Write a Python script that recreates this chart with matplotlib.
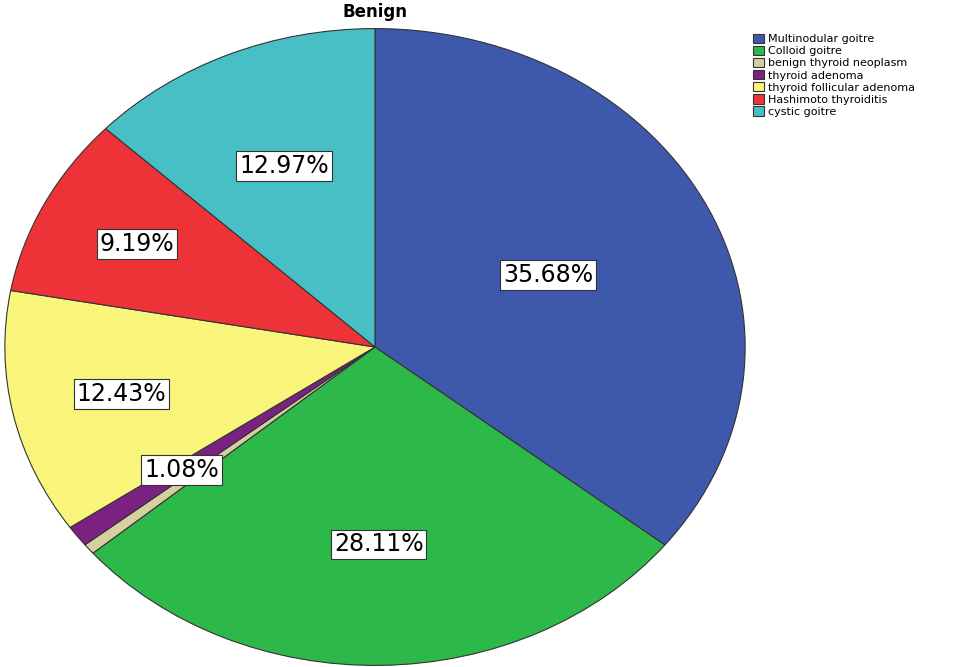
import numpy as np
import matplotlib.pyplot as plt

labels = ["Multinodular goitre", "Colloid goitre", "benign thyroid neoplasm",
          "thyroid adenoma", "thyroid follicular adenoma", "Hashimoto thyroiditis",
          "cystic goitre"]
values = [35.68, 28.11, 0.54, 1.08, 12.43, 9.19, 12.97]
colors = ["#3e58ac", "#2db84a", "#d6cf9e", "#7a2182", "#f9f57a", "#ee3338", "#47bfc4"]
label_dist = [0.52, 0.62, 0.65, 0.65, 0.70, 0.72, 0.62]

fig = plt.figure(figsize=(9.7, 6.67), dpi=100)
ax = fig.add_axes([3 / 970, 0.0, 744 / 970, 640 / 667])
wedges, _ = ax.pie(values, colors=colors, startangle=90, counterclock=False,
                   wedgeprops=dict(edgecolor="#333333", linewidth=0.8))
ax.set_aspect("auto")
ax.set_xlim(-1.005, 1.005)
ax.set_ylim(-1.005, 1.005)

for w, v, d in zip(wedges, values, label_dist):
    if v < 1.0:
        continue
    ang = np.deg2rad((w.theta1 + w.theta2) / 2)
    ax.text(d * np.cos(ang), d * np.sin(ang), f"{v:.2f}%", ha="center", va="center",
            fontsize=17, bbox=dict(facecolor="white", edgecolor="#333333", pad=2, linewidth=0.8))

fig.text(375 / 970, 1 - 12 / 667, "Benign", ha="center", va="center",
         fontsize=12, fontweight="bold")
fig.legend(wedges, labels, loc="upper left", bbox_to_anchor=(745 / 970, 1 - 26 / 667),
           fontsize=8, frameon=False, handlelength=1.0, handleheight=0.9,
           labelspacing=0.15, handletextpad=0.4, borderpad=0.2)
fig.savefig("out.png", dpi=100)
